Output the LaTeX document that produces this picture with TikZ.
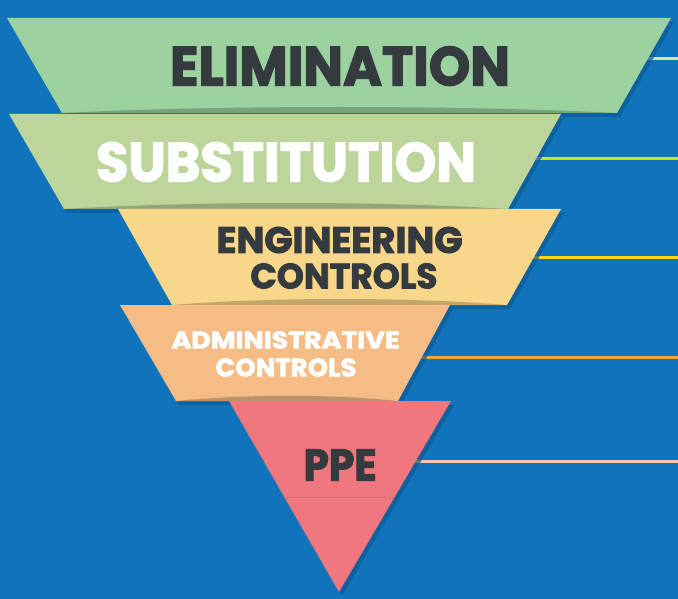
\documentclass[tikz,border=0pt]{standalone}
\usepackage{fontspec}
\setmainfont{Poppins}[BoldFeatures={FakeBold=2.5}]
\usepackage{graphicx}
\definecolor{bgblue}{HTML}{1174BA}
\definecolor{shblue}{HTML}{0B5A95}
\definecolor{cA}{HTML}{9CD1A0}
\definecolor{cB}{HTML}{BDD59A}
\definecolor{cC}{HTML}{F8D78A}
\definecolor{cD}{HTML}{F6BC86}
\definecolor{cE}{HTML}{F1777F}
\definecolor{lA}{HTML}{D6E59B}
\definecolor{lB}{HTML}{D9DC1C}
\definecolor{lC}{HTML}{F8D80C}
\definecolor{lD}{HTML}{F4A637}
\definecolor{lE}{HTML}{F6C4B4}
\definecolor{dtext}{HTML}{343A3E}
\tikzset{
  band/.style={draw=none},
  bandshadow/.style={fill=shblue, opacity=0.7},
  curl/.style={fill=black, opacity=0.22},
  tierline/.style={line width=3pt},
  lbl/.style={inner sep=0pt, font=\bfseries}
}
\begin{document}
\begin{tikzpicture}[x=1pt,y=-1pt]
\useasboundingbox (0,0) rectangle (678,599);
\fill[bgblue] (0,0) rectangle (678,599);

% named coordinates for connectors
\coordinate (eA) at (678,59);
\coordinate (eB) at (678,159);
\coordinate (eC) at (678,257);
\coordinate (eD) at (678,357);
\coordinate (eE) at (678,461);
\coordinate (sA) at (600,59);
\coordinate (sB) at (500,159);
\coordinate (sC) at (500,257);
\coordinate (sD) at (390,357);
\coordinate (sE) at (380,461);

\draw[tierline, lA] (sA) -- (eA);
\draw[tierline, lB] (sB) -- (eB);
\draw[tierline, lC] (sC) -- (eC);
\draw[tierline, lD] (sD) -- (eD);
\draw[tierline, lE] (sE) -- (eE);

% shadows
\begin{scope}[shift={(3,4)}]
\fill[bandshadow] (7,18) -- (671,18) -- (617,113) -- (62,113) -- cycle;
\fill[bandshadow] (9,114) -- (561,114) -- (508,209) -- (64,209) -- cycle;
\fill[bandshadow] (118,209) -- (561,209) -- (507,305) -- (172,305) -- cycle;
\fill[bandshadow] (120,305) -- (450,305) -- (398,401) -- (176,401) -- cycle;
\fill[bandshadow] (229,401) -- (451,401) -- (339,592) -- cycle;
\end{scope}

% bands
\fill[band, cA] (7,18) -- (671,18) -- (617,113) -- (62,113) -- cycle;
\fill[curl] (62,113) .. controls (220,105) and (460,105) .. (617,113) -- cycle;
\fill[band, cB] (9,114) -- (561,114) -- (508,209) -- (64,209) -- cycle;
\fill[curl] (64,209) .. controls (200,201) and (380,201) .. (508,209) -- cycle;
\fill[band, cC] (118,209) -- (561,209) -- (507,305) -- (172,305) -- cycle;
\fill[curl] (172,305) .. controls (270,297) and (410,297) .. (507,305) -- cycle;
\fill[band, cD] (120,305) -- (450,305) -- (398,401) -- (176,401) -- cycle;
\fill[curl] (176,401) .. controls (250,394) and (330,394) .. (398,401) -- cycle;
\fill[band, cE] (229,401) -- (451,401) -- (339,592) -- cycle;
\draw[line width=0.8pt, color=cE!80!black, opacity=0.5] (283,497) -- (395,497);

% labels
\node[lbl, text=dtext] (tA) at (340,66) {\resizebox{340pt}{39pt}{ELIMINATION}};
\node[lbl, text=white] (tB) at (286,162) {\resizebox{380pt}{39pt}{SUBSTITUTION}};
\node[lbl, text=dtext] (tC1) at (339.5,240) {\resizebox{246pt}{26pt}{ENGINEERING}};
\node[lbl, text=dtext] (tC2) at (344,276) {\resizebox{187pt}{25pt}{CONTROLS}};
\node[lbl, text=white] (tD1) at (285.5,340) {\resizebox{228pt}{17pt}{ADMINISTRATIVE}};
\node[lbl, text=white] (tD2) at (286,367.5) {\resizebox{141pt}{18pt}{CONTROLS}};
\node[lbl, text=dtext] (tE) at (340,465) {\resizebox{73pt}{31pt}{PPE}};
\end{tikzpicture}
\end{document}
